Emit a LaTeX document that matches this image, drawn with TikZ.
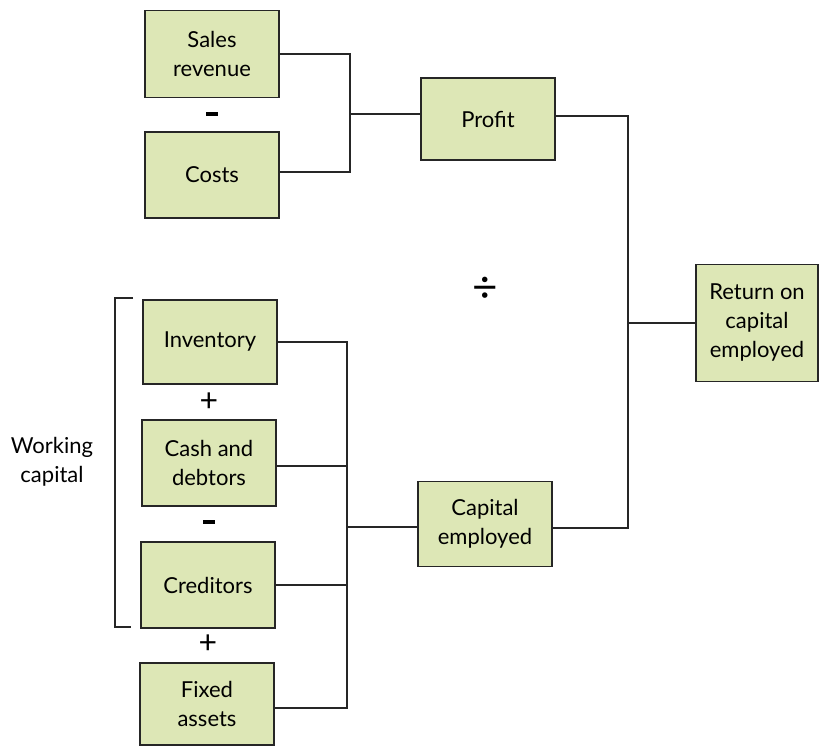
\documentclass[tikz,border=0pt]{standalone}
\usepackage{fontspec}
\setmainfont{Lato}
\begin{document}
\begin{tikzpicture}[x=1pt,y=-1pt,
  box/.style={draw=black!85,line width=1.4pt,fill={rgb,255:red,221;green,231;blue,182},
    minimum width=134pt,align=center,inner sep=2pt,
    font=\fontsize{22}{29}\selectfont},
  conn/.style={draw=black!85,line width=1.3pt},
  op/.style={font=\fontsize{32}{32}\selectfont,inner sep=0pt}]
\useasboundingbox (0,0) rectangle (820,747);

% top branch
\node[box,minimum height=87pt] (sales) at (212,54) {Sales\\revenue};
\node[box,minimum height=86pt] (costs) at (212,175) {Costs};
\node[box,minimum height=82pt] (profit) at (488,119) {Profit};
\node[inner sep=0pt] (minus1) at (212,114) {\rule{12pt}{3.5pt}};

% result
\node[box,minimum width=122pt,minimum height=117pt] (roce) at (757,323) {Return on\\capital\\employed};
\node[font=\fontsize{44}{44}\selectfont,inner sep=0pt] (div) at (485,290) {÷};

% bottom branch
\node[box,minimum height=84pt] (inv) at (210,342) {Inventory};
\node[box,minimum height=86pt] (cash) at (209,463) {Cash and\\debtors};
\node[box,minimum height=86pt] (cred) at (208,585) {Creditors};
\node[box,minimum height=82pt] (fixed) at (207,704) {Fixed\\assets};
\node[box,minimum height=85pt] (cap) at (485,524) {Capital\\employed};
\node[op] (plus1) at (209,402) {+};
\node[inner sep=0pt] (minus2) at (209,522) {\rule{12pt}{3.5pt}};
\node[op] (plus2) at (208,644) {+};

% working capital bracket
\coordinate (bt) at (133,298);
\coordinate (bb) at (131,627);
\draw[conn] (bt) -- (115,298) -- (115,627) -- (bb);
\node[font=\fontsize{22}{29}\selectfont,align=center] (wc) at (52,462) {Working\\capital};

% connectors
\coordinate (jtop) at (350,114);
\draw[conn] (sales.east |- 0,54) -| (jtop) |- (costs.east |- 0,172);
\draw[conn] (jtop) -- (profit.west |- jtop);

\coordinate (jright) at (628,323);
\draw[conn] (profit.east |- 0,116) -| (jright) |- (cap.east |- 0,528);
\draw[conn] (jright) -- (roce.west |- jright);

\coordinate (jbot) at (347,527);
\draw[conn] (inv.east) -| (jbot) |- (fixed.east |- 0,708);
\draw[conn] (cash.east |- 0,466) -- (jbot |- 0,466);
\draw[conn] (cred.east) -- (jbot |- cred.east);
\draw[conn] (jbot) -- (cap.west |- jbot);
\end{tikzpicture}
\end{document}
